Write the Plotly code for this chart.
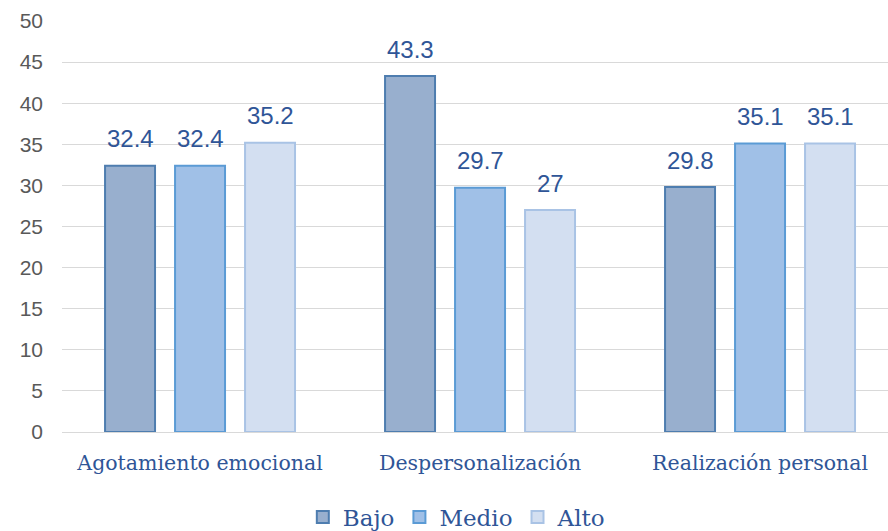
import plotly.graph_objects as go

categories = ["Agotamiento emocional", "Despersonalización", "Realización personal"]
series_names = ["Bajo", "Medio", "Alto"]
bajo = [32.4, 43.3, 29.8]
medio = [32.4, 29.7, 35.1]
alto = [35.2, 27, 35.1]
y_ticks = [0, 5, 10, 15, 20, 25, 30, 35, 40, 45, 50]

fills = ["#98AFCE", "#A0C0E7", "#D3DFF1"]
borders = ["#4E7DAF", "#5B9BD5", "#A9C3E5"]
serif = "DejaVu Serif, Liberation Serif, serif"

fig = go.Figure()
for name, vals, fc, bc in zip(series_names, [bajo, medio, alto], fills, borders):
    fig.add_trace(go.Bar(
        x=categories, y=vals, name=name,
        marker=dict(color=fc, line=dict(color=bc, width=2)),
    ))

# data labels above bars
for i, vals in enumerate([bajo, medio, alto]):
    for c, v in zip(categories, vals):
        fig.add_annotation(x=c, y=v, text=f"{v:g}", showarrow=False,
                           xshift=(i - 1) * 70, yshift=27, yanchor="middle",
                           font=dict(family="Liberation Sans, Arial", size=24, color="#2F5597"))

fig.update_layout(
    width=888, height=531,
    margin=dict(l=62, r=0, t=21, b=99, autoexpand=False),
    paper_bgcolor="white", plot_bgcolor="white",
    barmode="group", bargap=0.25, bargroupgap=0.286,
    showlegend=True,
    legend=dict(orientation="h", x=0.478, xanchor="center", y=-0.207, yanchor="middle",
                font=dict(family=serif, size=23, color="#2F5597"),
                itemwidth=30, traceorder="normal"),
    xaxis=dict(tickfont=dict(family=serif, size=20.5, color="#2F5597"),
               range=[-0.493, 2.457], automargin=False,
               showline=True, linecolor="#D9D9D9", linewidth=1, ticks="", showgrid=False,
               ticklabelstandoff=12),
    yaxis=dict(range=[0, 50], tickvals=y_ticks, showgrid=True, gridcolor="#D9D9D9", gridwidth=1,
               tickfont=dict(family="Liberation Sans, Arial", size=21, color="#595959"),
               automargin=False,
               zeroline=False, ticks="", showline=False, ticklabelstandoff=18),
)
fig.write_html("out.html")
